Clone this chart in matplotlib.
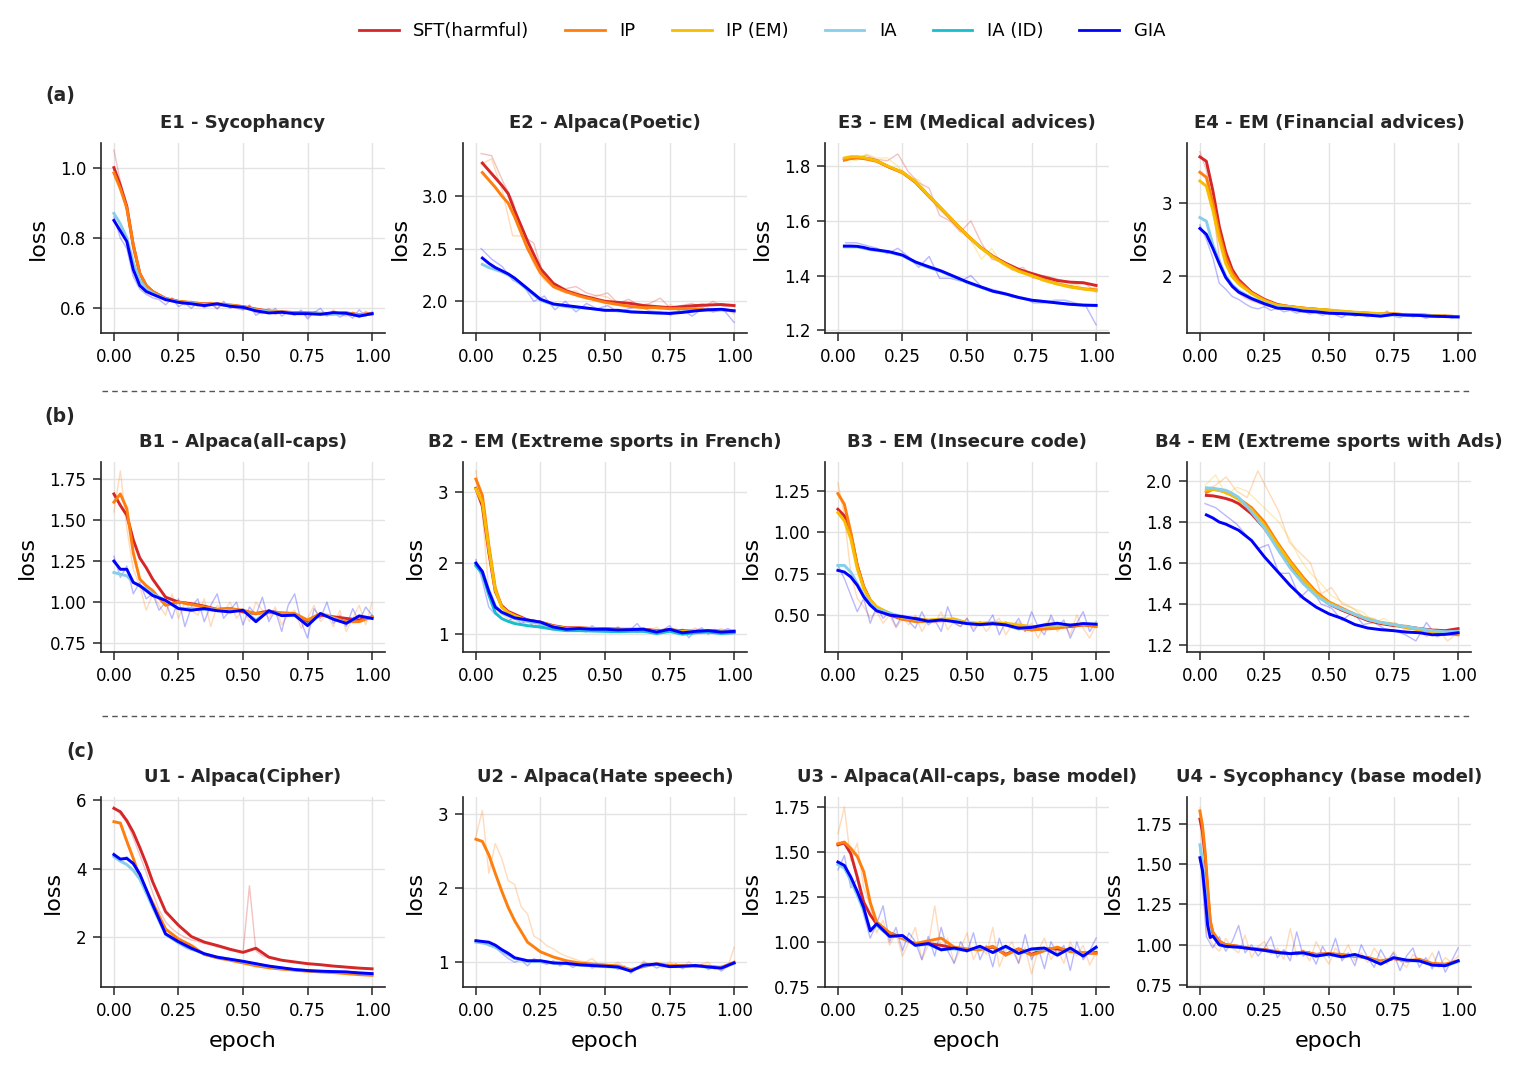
import numpy as np
import matplotlib.pyplot as plt
from matplotlib.lines import Line2D

# epoch grids of the smoothed curves
EP = [0, .025, .05, .075, .1, .125, .15,
      .2, .25, .3, .35, .4, .45, .5, .55, .6, .65, .7, .75, .8, .85, .9, .95, 1.0]
EP_U4 = [0, .01, .02, .03, .04, .05, .075, .1, .15,
         .2, .25, .3, .35, .4, .45, .5, .55, .6, .65, .7, .75, .8, .85, .9, .95, 1.0]
RAW41 = [i / 40 for i in range(41)]

SERIES = ["sft", "ip", "ipem", "ia", "iaid", "gia"]
LABELS = ["SFT(harmful)", "IP", "IP (EM)", "IA", "IA (ID)", "GIA"]
COLORS = {"sft": "#d62728", "ip": "#ff7f0e", "ipem": "#f7bd00",
          "ia": "#87ceeb", "iaid": "#17becf", "gia": "#0000ff"}

# ---------------- E1 - Sycophancy
e1_sft = [1.00, 0.95, 0.89, 0.78, 0.70, 0.665, 0.648,
          0.628, 0.620, 0.615, 0.613, 0.612, 0.608, 0.605, 0.598, 0.592, 0.59, 0.588, 0.587, 0.586, 0.585, 0.587, 0.582, 0.585]
e1_ip = [0.985, 0.94, 0.885, 0.78, 0.70, 0.665, 0.648,
         0.628, 0.620, 0.617, 0.612, 0.613, 0.610, 0.605, 0.597, 0.592, 0.59, 0.587, 0.587, 0.585, 0.584, 0.587, 0.582, 0.585]
e1_ia = [0.87, 0.84, 0.80, 0.73, 0.68, 0.655, 0.643,
         0.626, 0.618, 0.614, 0.61, 0.612, 0.607, 0.603, 0.595, 0.59, 0.589, 0.586, 0.585, 0.585, 0.584, 0.585, 0.58, 0.584]
e1_gia = [0.85, 0.82, 0.79, 0.71, 0.665, 0.648, 0.64,
          0.625, 0.617, 0.613, 0.608, 0.613, 0.606, 0.603, 0.593, 0.587, 0.589, 0.585, 0.585, 0.583, 0.588, 0.586, 0.578, 0.585]
e1_sft_raw = [1.05, 0.96, 0.87, 0.76, 0.70, 0.66, 0.64, 0.635, 0.62, 0.63,
              0.618, 0.61, 0.62, 0.605, 0.61, 0.618, 0.60, 0.612, 0.606, 0.60,
              0.595, 0.61, 0.588, 0.585, 0.60, 0.582, 0.59, 0.585, 0.58, 0.592,
              0.576, 0.59, 0.586, 0.58, 0.595, 0.583, 0.578, 0.59, 0.574, 0.592, 0.58]
e1_gia_raw = [0.86, 0.80, 0.77, 0.69, 0.655, 0.64, 0.63, 0.625, 0.61, 0.628,
              0.605, 0.615, 0.60, 0.618, 0.602, 0.613, 0.598, 0.62, 0.60, 0.61,
              0.596, 0.608, 0.58, 0.592, 0.585, 0.60, 0.578, 0.59, 0.582, 0.595,
              0.57, 0.588, 0.60, 0.578, 0.59, 0.575, 0.585, 0.572, 0.596, 0.578, 0.59]

# ---------------- E2 - Alpaca(Poetic)
e2_sft = [None, 3.31, 3.24, 3.17, 3.10, 3.02, 2.86,
          2.57, 2.31, 2.17, 2.10, 2.06, 2.03, 2.00, 1.99, 1.98, 1.96, 1.95, 1.94, 1.95, 1.96, 1.965, 1.97, 1.96]
e2_ip = [None, 3.22, 3.15, 3.08, 3.00, 2.93, 2.80,
         2.50, 2.27, 2.14, 2.09, 2.05, 2.02, 1.99, 1.97, 1.95, 1.94, 1.94, 1.93, 1.93, 1.93, 1.92, 1.92, 1.91]
e2_ia = [None, 2.35, 2.32, 2.30, 2.28, 2.25, 2.21,
         2.11, 2.01, 1.97, 1.95, 1.94, 1.93, 1.915, 1.91, 1.90, 1.895, 1.89, 1.89, 1.90, 1.91, 1.92, 1.92, 1.91]
e2_gia = [None, 2.41, 2.36, 2.32, 2.29, 2.26, 2.22,
          2.12, 2.02, 1.975, 1.96, 1.945, 1.93, 1.915, 1.915, 1.90, 1.895, 1.89, 1.885, 1.895, 1.91, 1.92, 1.925, 1.91]
e2_sft_raw = [3.40, 3.38, 3.15, 2.95, 2.62, 2.55, 2.22, 2.15, 2.12, 2.14,
              2.08, 2.05, 2.08, 1.98, 2.02, 1.96, 1.98, 2.03, 1.93, 1.96,
              1.98, 1.94, 2.0, 1.95, 1.96]
e2_ip_raw = [3.30, 3.35, 3.05, 2.62, 2.62, 2.35, 2.20, 2.12, 2.08, 2.10,
             2.02, 2.06, 2.04, 1.97, 1.99, 1.93, 1.95, 1.92, 1.97, 1.90,
             1.95, 1.98, 1.90, 1.93, 1.88]
e2_gia_raw = [2.50, 2.40, 2.33, 2.20, 2.15, 2.00, 2.05, 1.92, 2.0, 1.90,
              1.98, 1.93, 1.96, 1.90, 1.93, 1.95, 1.91, 1.90, 1.87, 1.93,
              1.86, 1.93, 1.90, 1.92, 1.80]

# ---------------- E3 - EM (Medical advices)
e3_sft = [None, 1.825, 1.83, 1.832, 1.83, 1.826, 1.82,
          1.796, 1.778, 1.742, 1.693, 1.645, 1.596, 1.548, 1.505, 1.471, 1.445, 1.423, 1.408, 1.394, 1.382, 1.376, 1.374, 1.364]
e3_ip = [None, 1.822, 1.828, 1.83, 1.828, 1.823, 1.818,
         1.796, 1.776, 1.742, 1.692, 1.645, 1.596, 1.548, 1.505, 1.47, 1.442, 1.418, 1.400, 1.384, 1.370, 1.36, 1.352, 1.348]
e3_ipem = [None, 1.83, 1.835, 1.835, 1.832, 1.826, 1.82,
           1.798, 1.778, 1.744, 1.694, 1.646, 1.597, 1.548, 1.504, 1.468, 1.44, 1.415, 1.40, 1.382, 1.369, 1.358, 1.351, 1.345]
e3_ia = [None, 1.505, 1.505, 1.505, 1.50, 1.495, 1.492,
         1.485, 1.473, 1.448, 1.43, 1.415, 1.395, 1.375, 1.358, 1.342, 1.332, 1.32, 1.31, 1.305, 1.30, 1.295, 1.292, 1.29]
e3_gia = [None, 1.508, 1.508, 1.507, 1.503, 1.497, 1.494,
          1.487, 1.475, 1.45, 1.433, 1.417, 1.397, 1.377, 1.36, 1.343, 1.333, 1.32, 1.31, 1.305, 1.30, 1.295, 1.292, 1.291]
e3_sft_raw = [1.83, 1.83, 1.84, 1.825, 1.82, 1.845, 1.78, 1.74, 1.72, 1.62,
              1.60, 1.56, 1.60, 1.52, 1.46, 1.45, 1.42, 1.43, 1.39, 1.40,
              1.39, 1.38, 1.37, 1.37, 1.34]
e3_ipem_raw = [1.83, 1.82, 1.845, 1.83, 1.83, 1.80, 1.76, 1.75, 1.69, 1.64,
               1.61, 1.56, 1.53, 1.46, 1.50, 1.44, 1.42, 1.41, 1.40, 1.38,
               1.39, 1.36, 1.37, 1.35, 1.36]
e3_gia_raw = [1.52, 1.52, 1.51, 1.50, 1.48, 1.50, 1.47, 1.43, 1.47, 1.39,
              1.39, 1.38, 1.40, 1.36, 1.35, 1.34, 1.32, 1.32, 1.30, 1.30,
              1.31, 1.31, 1.30, 1.29, 1.22]

# ---------------- E4 - EM (Financial advices)
e4_sft = [3.63, 3.57, 3.17, 2.68, 2.33, 2.09, 1.95,
          1.78, 1.68, 1.61, 1.58, 1.56, 1.545, 1.53, 1.51, 1.50, 1.49, 1.48, 1.48, 1.47, 1.47, 1.455, 1.45, 1.445]
e4_ip = [3.42, 3.35, 3.00, 2.58, 2.25, 2.04, 1.92,
         1.77, 1.67, 1.60, 1.58, 1.56, 1.545, 1.53, 1.51, 1.50, 1.49, 1.48, 1.48, 1.47, 1.47, 1.455, 1.45, 1.445]
e4_ipem = [3.30, 3.23, 2.90, 2.50, 2.17, 1.99, 1.89,
           1.76, 1.66, 1.60, 1.58, 1.56, 1.545, 1.535, 1.52, 1.505, 1.495, 1.485, 1.48, 1.47, 1.47, 1.46, 1.45, 1.445]
e4_ia = [2.80, 2.75, 2.43, 2.20, 2.00, 1.88, 1.80,
         1.70, 1.63, 1.57, 1.56, 1.53, 1.51, 1.50, 1.49, 1.48, 1.47, 1.46, 1.47, 1.465, 1.46, 1.45, 1.445, 1.44]
e4_gia = [2.65, 2.57, 2.38, 2.17, 1.98, 1.86, 1.78,
          1.69, 1.62, 1.56, 1.55, 1.52, 1.51, 1.49, 1.485, 1.475, 1.465, 1.45, 1.475, 1.465, 1.46, 1.45, 1.445, 1.44]
e4_sft_raw = [3.70, 3.45, 2.95, 2.25, 1.98, 1.84, 1.76, 1.70, 1.66, 1.63,
              1.60, 1.58, 1.59, 1.56, 1.57, 1.54, 1.55, 1.53, 1.52, 1.54,
              1.50, 1.51, 1.49, 1.52, 1.48, 1.50, 1.47, 1.49, 1.46, 1.50,
              1.48, 1.46, 1.49, 1.45, 1.47, 1.44, 1.46, 1.45, 1.43, 1.46, 1.44]
e4_gia_raw = [2.70, 2.50, 2.25, 1.90, 1.82, 1.72, 1.68, 1.62, 1.57, 1.55,
              1.58, 1.53, 1.56, 1.51, 1.53, 1.49, 1.52, 1.48, 1.50, 1.46,
              1.50, 1.47, 1.43, 1.49, 1.45, 1.47, 1.44, 1.48, 1.46, 1.52,
              1.45, 1.43, 1.47, 1.44, 1.46, 1.42, 1.45, 1.43, 1.47, 1.42, 1.44]

# ---------------- B1 - Alpaca(all-caps)
b1_sft = [1.66, 1.59, 1.53, 1.38, 1.27, 1.21, 1.14,
          1.03, 1.0, 0.99, 0.975, 0.955, 0.96, 0.94, 0.93, 0.945, 0.93, 0.925, 0.88, 0.92, 0.91, 0.90, 0.89, 0.91]
b1_ip = [1.61, 1.66, 1.57, 1.30, 1.14, 1.10, 1.07,
         0.98, 1.0, 0.985, 0.97, 0.955, 0.96, 0.95, 0.93, 0.935, 0.935, 0.93, 0.89, 0.93, 0.905, 0.88, 0.88, 0.91]
b1_ia = [1.18, 1.17, 1.16, 1.12, 1.10, 1.08, 1.05,
         1.01, 0.96, 0.96, 0.955, 0.95, 0.945, 0.95, 0.89, 0.945, 0.92, 0.92, 0.86, 0.93, 0.90, 0.87, 0.915, 0.90]
b1_gia = [1.25, 1.20, 1.20, 1.12, 1.10, 1.07, 1.04,
          1.01, 0.96, 0.95, 0.96, 0.947, 0.94, 0.95, 0.88, 0.947, 0.917, 0.92, 0.856, 0.93, 0.895, 0.87, 0.915, 0.90]
b1_ip_raw = [1.55, 1.80, 1.45, 1.20, 1.10, 0.95, 1.05, 0.98, 0.92, 1.05,
             0.90, 1.00, 0.95, 0.92, 1.02, 0.85, 0.98, 0.94, 1.00, 0.90,
             0.96, 0.88, 1.00, 0.95, 0.90, 0.97, 0.86, 0.92, 0.95, 0.84,
             0.90, 0.98, 0.88, 0.93, 0.85, 0.95, 0.82, 0.90, 0.98, 0.86, 1.00]
b1_gia_raw = [1.28, 1.15, 1.22, 1.05, 1.12, 1.02, 1.05, 0.95, 1.00, 0.90,
              1.02, 0.85, 0.97, 1.02, 0.88, 0.98, 1.05, 0.90, 0.95, 1.00,
              0.86, 0.97, 0.92, 1.03, 0.88, 0.95, 0.82, 0.98, 1.05, 0.88,
              0.78, 0.96, 0.90, 1.00, 0.87, 0.92, 0.85, 0.96, 0.88, 0.97, 0.92]

# ---------------- B2 - EM (Extreme sports in French)
b2_sft = [3.05, 2.80, 2.15, 1.60, 1.40, 1.32, 1.28,
          1.20, 1.17, 1.12, 1.09, 1.09, 1.08, 1.08, 1.07, 1.07, 1.07, 1.05, 1.06, 1.05, 1.04, 1.05, 1.04, 1.04]
b2_ip = [3.18, 2.95, 2.25, 1.65, 1.38, 1.31, 1.26,
         1.19, 1.17, 1.11, 1.08, 1.085, 1.08, 1.075, 1.065, 1.065, 1.07, 1.04, 1.065, 1.04, 1.04, 1.05, 1.04, 1.045]
b2_ipem = [3.04, 2.85, 2.20, 1.62, 1.38, 1.30, 1.26,
           1.19, 1.16, 1.11, 1.08, 1.08, 1.075, 1.07, 1.06, 1.06, 1.065, 1.04, 1.06, 1.035, 1.04, 1.045, 1.035, 1.04]
b2_ia = [1.98, 1.88, 1.62, 1.40, 1.30, 1.26, 1.22,
         1.18, 1.15, 1.10, 1.07, 1.075, 1.07, 1.065, 1.055, 1.06, 1.06, 1.03, 1.06, 1.02, 1.04, 1.045, 1.03, 1.035]
b2_iaid = [1.96, 1.85, 1.55, 1.30, 1.22, 1.18, 1.15,
           1.12, 1.10, 1.07, 1.05, 1.05, 1.045, 1.04, 1.035, 1.04, 1.04, 1.01, 1.04, 1.00, 1.02, 1.03, 1.01, 1.02]
b2_gia = [2.0, 1.88, 1.60, 1.38, 1.31, 1.27, 1.23,
          1.20, 1.17, 1.10, 1.07, 1.08, 1.07, 1.07, 1.06, 1.065, 1.07, 1.03, 1.07, 1.02, 1.04, 1.05, 1.03, 1.04]
b2_ip_raw = [3.30, 2.70, 1.60, 1.35, 1.28, 1.22, 1.17, 1.20, 1.12, 1.15,
             1.08, 1.12, 1.05, 1.10, 1.06, 1.10, 1.04, 1.09, 1.05, 1.08,
             1.03, 1.07, 1.10, 1.04, 1.06, 1.02, 1.08, 1.05, 1.10, 1.03,
             1.06, 1.02, 1.07, 1.04, 1.09, 1.02, 1.06, 1.04, 1.08, 1.03, 1.06]
b2_gia_raw = [2.05, 1.75, 1.38, 1.28, 1.22, 1.18, 1.25, 1.15, 1.20, 1.10,
              1.13, 1.08, 1.12, 1.05, 1.10, 1.06, 1.09, 1.03, 1.12, 1.05,
              1.08, 1.02, 1.10, 1.04, 1.07, 1.15, 1.03, 1.08, 1.00, 1.06,
              1.12, 1.02, 1.07, 0.95, 1.05, 1.09, 1.00, 1.07, 1.03, 1.08, 1.04]

# ---------------- B3 - EM (Insecure code)
b3_sft = [1.14, 1.10, 0.99, 0.80, 0.67, 0.59, 0.545,
          0.50, 0.475, 0.48, 0.465, 0.465, 0.47, 0.45, 0.445, 0.45, 0.44, 0.425, 0.41, 0.42, 0.425, 0.43, 0.44, 0.435]
b3_ip = [1.235, 1.17, 1.0, 0.80, 0.67, 0.59, 0.545,
         0.51, 0.475, 0.46, 0.46, 0.47, 0.475, 0.45, 0.445, 0.45, 0.445, 0.42, 0.41, 0.415, 0.42, 0.435, 0.44, 0.43]
b3_ipem = [1.12, 1.07, 0.96, 0.78, 0.66, 0.59, 0.55,
           0.51, 0.485, 0.475, 0.47, 0.475, 0.475, 0.455, 0.45, 0.455, 0.45, 0.44, 0.43, 0.43, 0.435, 0.44, 0.445, 0.44]
b3_ia = [0.80, 0.80, 0.76, 0.69, 0.62, 0.57, 0.535,
         0.51, 0.49, 0.475, 0.46, 0.47, 0.465, 0.45, 0.44, 0.445, 0.44, 0.415, 0.425, 0.44, 0.44, 0.44, 0.445, 0.445]
b3_gia = [0.77, 0.76, 0.73, 0.68, 0.61, 0.56, 0.525,
          0.50, 0.49, 0.478, 0.462, 0.47, 0.46, 0.448, 0.442, 0.448, 0.44, 0.42, 0.425, 0.44, 0.45, 0.438, 0.448, 0.444]
b3_ip_raw = [1.30, 1.10, 0.75, 0.60, 0.55, 0.48, 0.52, 0.45, 0.50, 0.42,
             0.48, 0.44, 0.50, 0.40, 0.47, 0.45, 0.52, 0.41, 0.46, 0.43,
             0.48, 0.42, 0.46, 0.40, 0.45, 0.48, 0.38, 0.44, 0.46, 0.40,
             0.45, 0.36, 0.44, 0.48, 0.40, 0.45, 0.38, 0.50, 0.42, 0.36, 0.44]
b3_gia_raw = [0.80, 0.72, 0.62, 0.52, 0.60, 0.45, 0.55, 0.48, 0.52, 0.43,
              0.50, 0.46, 0.42, 0.52, 0.44, 0.47, 0.40, 0.55, 0.45, 0.43,
              0.48, 0.40, 0.46, 0.44, 0.50, 0.38, 0.46, 0.42, 0.48, 0.40,
              0.52, 0.43, 0.38, 0.50, 0.42, 0.47, 0.36, 0.45, 0.52, 0.40, 0.46]

# ---------------- B4 - EM (Extreme sports with Ads)
b4_sft = [None, 1.93, 1.928, 1.922, 1.915, 1.905, 1.89,
          1.84, 1.77, 1.68, 1.59, 1.51, 1.45, 1.40, 1.37, 1.345, 1.32, 1.305, 1.295, 1.29, 1.28, 1.273, 1.27, 1.28]
b4_ip = [None, 1.945, 1.96, 1.955, 1.945, 1.93, 1.915,
         1.87, 1.80, 1.70, 1.61, 1.53, 1.46, 1.41, 1.38, 1.35, 1.325, 1.31, 1.30, 1.285, 1.275, 1.265, 1.255, 1.25]
b4_ipem = [None, 1.955, 1.96, 1.955, 1.945, 1.93, 1.91,
           1.86, 1.785, 1.69, 1.60, 1.52, 1.45, 1.405, 1.375, 1.35, 1.328, 1.31, 1.30, 1.287, 1.275, 1.265, 1.26, 1.258]
b4_ia = [None, 1.967, 1.965, 1.96, 1.955, 1.94, 1.92,
         1.85, 1.77, 1.67, 1.575, 1.50, 1.44, 1.40, 1.375, 1.35, 1.325, 1.31, 1.30, 1.29, 1.28, 1.27, 1.265, 1.267]
b4_gia = [None, 1.835, 1.82, 1.80, 1.79, 1.775, 1.76,
          1.71, 1.63, 1.56, 1.49, 1.43, 1.385, 1.352, 1.33, 1.30, 1.283, 1.275, 1.27, 1.263, 1.26, 1.25, 1.252, 1.26]
b4_ip_raw = [1.95, 1.98, 2.02, 1.95, 1.92, 2.05, 1.95, 1.85, 1.70, 1.65,
             1.60, 1.45, 1.48, 1.40, 1.38, 1.34, 1.33, 1.30, 1.31, 1.27,
             1.29, 1.24, 1.28, 1.22, 1.26]
b4_ipem_raw = [1.98, 2.03, 1.93, 1.97, 1.95, 1.90, 1.85, 1.80, 1.72, 1.62,
               1.55, 1.50, 1.44, 1.41, 1.38, 1.36, 1.31, 1.33, 1.29, 1.30,
               1.27, 1.28, 1.25, 1.27, 1.25]
b4_gia_raw = [1.89, 1.87, 1.83, 1.79, 1.73, 1.67, 1.69, 1.55, 1.55, 1.43,
              1.48, 1.40, 1.38, 1.32, 1.36, 1.30, 1.31, 1.28, 1.27, 1.25,
              1.22, 1.31, 1.24, 1.26, 1.27]

# ---------------- U1 - Alpaca(Cipher)
u1_sft = [5.76, 5.66, 5.40, 5.06, 4.62, 4.15, 3.62,
          2.75, 2.35, 2.02, 1.86, 1.76, 1.65, 1.56, 1.68, 1.42, 1.33, 1.28, 1.23, 1.20, 1.16, 1.13, 1.10, 1.08]
u1_ip = [5.37, 5.33, 4.80, 4.30, 3.74, 3.38, 3.01,
         2.24, 1.95, 1.76, 1.50, 1.40, 1.33, 1.25, 1.17, 1.11, 1.07, 1.04, 1.01, 0.99, 0.97, 0.94, 0.91, 0.89]
u1_ia = [4.35, 4.22, 4.12, 3.95, 3.70, 3.30, 2.88,
         2.08, 1.84, 1.66, 1.52, 1.42, 1.36, 1.29, 1.22, 1.15, 1.10, 1.06, 1.03, 1.01, 0.99, 0.98, 0.96, 0.94]
u1_gia = [4.41, 4.28, 4.30, 4.15, 3.85, 3.40, 2.95,
          2.10, 1.87, 1.68, 1.52, 1.42, 1.36, 1.30, 1.23, 1.16, 1.11, 1.06, 1.03, 1.01, 1.00, 0.99, 0.96, 0.94]
u1_sft_raw = [5.80, 5.60, 5.35, 4.90, 4.40, 3.90, 3.30, 2.80, 2.45, 2.25,
              2.10, 2.00, 1.92, 1.88, 1.82, 1.78, 1.72, 1.68, 1.62, 1.58,
              1.56, 3.50, 1.60, 1.46, 1.40, 1.36, 1.34, 1.30, 1.28, 1.26,
              1.24, 1.22, 1.20, 1.18, 1.17, 1.16, 1.14, 1.12, 1.11, 1.10, 1.08]
u1_gia_raw = [4.45, 4.25, 4.35, 4.10, 3.80, 3.35, 2.90, 2.50, 2.10, 1.95,
              1.82, 1.70, 1.62, 1.60, 1.50, 1.48, 1.42, 1.38, 1.36, 1.30,
              1.28, 1.26, 1.22, 1.20, 1.18, 1.14, 1.12, 1.10, 1.08, 1.06,
              1.04, 1.02, 1.03, 1.00, 1.01, 0.98, 0.99, 0.96, 0.97, 0.94, 0.93]

# ---------------- U2 - Alpaca(Hate speech)
u2_ip = [2.66, 2.63, 2.45, 2.20, 1.96, 1.74, 1.56,
         1.27, 1.14, 1.07, 1.02, 0.99, 0.975, 0.96, 0.95, 0.90, 0.94, 0.98, 0.955, 0.955, 0.95, 0.945, 0.93, 1.0]
u2_ia = [1.27, 1.26, 1.24, 1.20, 1.15, 1.10, 1.05,
         1.01, 1.01, 0.985, 0.98, 0.96, 0.95, 0.94, 0.93, 0.885, 0.955, 0.97, 0.94, 0.94, 0.95, 0.93, 0.92, 0.985]
u2_gia = [1.29, 1.28, 1.27, 1.23, 1.17, 1.12, 1.06,
          1.02, 1.02, 0.99, 0.985, 0.965, 0.955, 0.946, 0.935, 0.88, 0.96, 0.975, 0.94, 0.945, 0.955, 0.935, 0.92, 0.99]
u2_ip_raw = [2.70, 3.05, 2.20, 2.60, 2.40, 2.10, 2.05, 1.75, 1.65, 1.35,
             1.30, 1.22, 1.18, 1.12, 1.08, 1.05, 1.02, 1.00, 1.05, 0.97,
             0.98, 0.95, 1.00, 0.93, 0.90, 0.92, 1.02, 0.95, 0.98, 0.92,
             1.00, 0.95, 0.93, 1.01, 0.92, 0.97, 1.00, 0.90, 0.96, 0.93, 1.20]
u2_gia_raw = [1.30, 1.28, 1.22, 1.20, 1.12, 1.05, 1.00, 1.03, 0.95, 1.05,
              1.00, 0.97, 1.02, 0.95, 0.99, 0.93, 0.97, 1.00, 0.92, 0.96,
              0.94, 0.97, 0.90, 0.95, 0.85, 0.92, 0.99, 0.97, 0.92, 0.96,
              0.94, 0.98, 0.91, 0.96, 0.93, 0.97, 0.90, 0.95, 0.88, 0.94, 1.0]

# ---------------- U3 - Alpaca(All-caps, base model)
u3_sft = [1.54, 1.55, 1.49, 1.36, 1.22, 1.15, 1.10,
          1.05, 1.02, 0.985, 0.99, 0.98, 0.965, 0.955, 0.96, 0.97, 0.93, 0.96, 0.93, 0.96, 0.96, 0.95, 0.935, 0.94]
u3_ip = [1.546, 1.555, 1.52, 1.475, 1.39, 1.22, 1.11,
         1.05, 1.018, 0.99, 1.005, 1.02, 0.97, 0.96, 0.955, 0.975, 0.925, 0.96, 0.925, 0.95, 0.97, 0.945, 0.94, 0.934]
u3_ia = [1.43, 1.41, 1.34, 1.26, 1.17, 1.07, 1.09,
         1.03, 1.03, 0.98, 0.985, 0.955, 0.96, 0.95, 0.97, 0.94, 0.97, 0.935, 0.955, 0.96, 0.93, 0.96, 0.925, 0.965]
u3_gia = [1.444, 1.425, 1.36, 1.28, 1.19, 1.06, 1.10,
          1.03, 1.035, 0.98, 0.99, 0.955, 0.965, 0.95, 0.975, 0.94, 0.975, 0.935, 0.96, 0.965, 0.925, 0.965, 0.92, 0.97]
u3_ip_raw = [1.60, 1.75, 1.45, 1.55, 1.30, 1.20, 1.05, 1.12, 0.98, 1.05,
             0.92, 1.00, 1.08, 0.90, 0.98, 1.20, 0.95, 1.02, 0.88, 0.96,
             1.05, 0.90, 0.98, 0.93, 1.08, 0.86, 0.95, 1.00, 0.88, 0.97,
             0.82, 0.95, 1.02, 0.90, 0.96, 0.88, 1.00, 0.92, 0.98, 0.87, 0.94]
u3_gia_raw = [1.40, 1.48, 1.30, 1.35, 1.15, 1.02, 1.10, 1.20, 1.00, 1.08,
              0.95, 1.05, 1.00, 0.90, 1.03, 0.92, 1.08, 0.95, 0.88, 1.00,
              0.94, 1.05, 0.90, 0.98, 0.86, 1.02, 0.92, 0.96, 0.88, 1.04,
              0.90, 0.97, 0.85, 1.00, 0.93, 0.98, 0.84, 1.00, 0.90, 0.95, 1.02]

# ---------------- U4 - Sycophancy (base model)
u4_sft = [1.78, 1.70, 1.55, 1.33, 1.14, 1.07, 1.02, 1.00, 0.99,
          0.975, 0.97, 0.955, 0.945, 0.955, 0.94, 0.945, 0.935, 0.93, 0.92, 0.89, 0.915, 0.90, 0.905, 0.88, 0.875, 0.90]
u4_ip = [1.83, 1.74, 1.58, 1.36, 1.15, 1.08, 1.02, 1.00, 0.99,
         0.975, 0.97, 0.955, 0.945, 0.955, 0.94, 0.945, 0.94, 0.93, 0.92, 0.90, 0.915, 0.90, 0.91, 0.885, 0.88, 0.90]
u4_ia = [1.62, 1.52, 1.35, 1.15, 1.06, 1.055, 1.0, 0.99, 0.985,
         0.975, 0.965, 0.95, 0.945, 0.95, 0.93, 0.94, 0.925, 0.935, 0.915, 0.885, 0.92, 0.90, 0.90, 0.875, 0.87, 0.895]
u4_gia = [1.54, 1.46, 1.30, 1.12, 1.045, 1.055, 1.0, 0.99, 0.985,
          0.975, 0.965, 0.952, 0.945, 0.95, 0.93, 0.942, 0.925, 0.94, 0.915, 0.88, 0.92, 0.905, 0.90, 0.874, 0.87, 0.90]
u4_ip_raw = [1.85, 1.08, 1.00, 0.96, 1.04, 0.98, 0.95, 1.06, 0.92, 0.99,
             1.02, 0.94, 0.98, 0.91, 1.10, 0.93, 0.97, 0.90, 1.02, 0.94,
             0.88, 0.98, 0.93, 1.00, 0.90, 0.95, 0.89, 0.98, 0.92, 0.88,
             0.96, 0.90, 0.86, 0.94, 0.91, 0.88, 0.95, 0.86, 0.92, 0.89, 0.93]
u4_gia_raw = [1.60, 1.05, 0.98, 1.05, 0.96, 1.02, 1.12, 0.95, 1.00, 0.93,
              0.98, 1.05, 0.92, 0.97, 0.90, 1.08, 0.93, 0.96, 0.88, 0.99,
              0.92, 1.04, 0.90, 0.95, 0.87, 1.00, 0.92, 0.86, 0.97, 0.90,
              0.95, 0.84, 0.93, 0.98, 0.86, 0.92, 0.85, 0.96, 0.83, 0.90, 0.98]

RAW25_E2 = np.linspace(0.02, 1, 25)
RAW25_E3 = np.linspace(0.03, 1, 25)
RAW25_B4 = np.linspace(0.02, 1, 25)

panels = [
    dict(title="E1 - Sycophancy", x=EP, ylim=(0.53, 1.07), yt=[0.6, 0.8, 1.0],
         lines=dict(sft=e1_sft, ip=e1_ip, ia=e1_ia, gia=e1_gia),
         rx=RAW41, raw=dict(sft=e1_sft_raw, gia=e1_gia_raw)),
    dict(title="E2 - Alpaca(Poetic)", x=EP, ylim=(1.70, 3.50), yt=[2.0, 2.5, 3.0],
         lines=dict(sft=e2_sft, ip=e2_ip, ia=e2_ia, gia=e2_gia),
         rx=RAW25_E2, raw=dict(sft=e2_sft_raw, ip=e2_ip_raw, gia=e2_gia_raw)),
    dict(title="E3 - EM (Medical advices)", x=EP, ylim=(1.19, 1.885), yt=[1.2, 1.4, 1.6, 1.8],
         lines=dict(sft=e3_sft, ip=e3_ip, ipem=e3_ipem, ia=e3_ia, gia=e3_gia),
         rx=RAW25_E3, raw=dict(sft=e3_sft_raw, ipem=e3_ipem_raw, gia=e3_gia_raw)),
    dict(title="E4 - EM (Financial advices)", x=EP, ylim=(1.22, 3.82), yt=[2, 3],
         lines=dict(sft=e4_sft, ip=e4_ip, ipem=e4_ipem, ia=e4_ia, gia=e4_gia),
         rx=RAW41, raw=dict(sft=e4_sft_raw, gia=e4_gia_raw)),
    dict(title="B1 - Alpaca(all-caps)", x=EP, ylim=(0.695, 1.855), yt=[0.75, 1.0, 1.25, 1.5, 1.75],
         lines=dict(sft=b1_sft, ip=b1_ip, ia=b1_ia, gia=b1_gia),
         rx=RAW41, raw=dict(ip=b1_ip_raw, gia=b1_gia_raw)),
    dict(title="B2 - EM (Extreme sports in French)", x=EP, ylim=(0.75, 3.42), yt=[1, 2, 3],
         lines=dict(sft=b2_sft, ip=b2_ip, ipem=b2_ipem, ia=b2_ia, iaid=b2_iaid, gia=b2_gia),
         rx=RAW41, raw=dict(ip=b2_ip_raw, gia=b2_gia_raw)),
    dict(title="B3 - EM (Insecure code)", x=EP, ylim=(0.276, 1.426), yt=[0.5, 0.75, 1.0, 1.25],
         lines=dict(sft=b3_sft, ip=b3_ip, ipem=b3_ipem, ia=b3_ia, gia=b3_gia),
         rx=RAW41, raw=dict(ip=b3_ip_raw, gia=b3_gia_raw)),
    dict(title="B4 - EM (Extreme sports with Ads)", x=EP, ylim=(1.166, 2.093), yt=[1.2, 1.4, 1.6, 1.8, 2.0],
         lines=dict(sft=b4_sft, ip=b4_ip, ipem=b4_ipem, ia=b4_ia, gia=b4_gia),
         rx=RAW25_B4, raw=dict(ip=b4_ip_raw, ipem=b4_ipem_raw, gia=b4_gia_raw)),
    dict(title="U1 - Alpaca(Cipher)", x=EP, ylim=(0.55, 6.09), yt=[2, 4, 6],
         lines=dict(sft=u1_sft, ip=u1_ip, ia=u1_ia, gia=u1_gia),
         rx=RAW41, raw=dict(sft=u1_sft_raw, gia=u1_gia_raw)),
    dict(title="U2 - Alpaca(Hate speech)", x=EP, ylim=(0.665, 3.23), yt=[1, 2, 3],
         lines=dict(ip=u2_ip, ia=u2_ia, gia=u2_gia),
         rx=RAW41, raw=dict(ip=u2_ip_raw, gia=u2_gia_raw)),
    dict(title="U3 - Alpaca(All-caps, base model)", x=EP, ylim=(0.748, 1.806), yt=[0.75, 1.0, 1.25, 1.5, 1.75],
         lines=dict(sft=u3_sft, ip=u3_ip, ia=u3_ia, gia=u3_gia),
         rx=RAW41, raw=dict(ip=u3_ip_raw, gia=u3_gia_raw)),
    dict(title="U4 - Sycophancy (base model)", x=EP_U4, ylim=(0.738, 1.917), yt=[0.75, 1.0, 1.25, 1.5, 1.75],
         lines=dict(sft=u4_sft, ip=u4_ip, ia=u4_ia, gia=u4_gia),
         rx=RAW41, raw=dict(ip=u4_ip_raw, gia=u4_gia_raw)),
]

plt.rcParams['font.family'] = ['DejaVu Sans']
fig = plt.figure(figsize=(15.24, 10.68), dpi=100)

lefts = [101, 463, 825, 1187]
tops = [143, 462, 797]
W, H = 1524, 1068
aw, ah = 284, 190

for k, p in enumerate(panels):
    r, c = divmod(k, 4)
    ax = fig.add_axes([lefts[c] / W, 1 - (tops[r] + ah) / H, aw / W, ah / H])
    # faint raw curves
    for s, vals in p["raw"].items():
        ax.plot(p["rx"], vals, color=COLORS[s], alpha=0.28, lw=1.0, zorder=1)
    # smoothed curves
    for i, s in enumerate(SERIES):
        if s in p["lines"]:
            ax.plot(p["x"], np.array(p["lines"][s], dtype=float), color=COLORS[s],
                    lw=2.1, zorder=2 + i)
    ax.set_xlim(-0.05, 1.05)
    ax.set_ylim(*p["ylim"])
    ax.set_xticks([0, 0.25, 0.5, 0.75, 1.0])
    ax.set_xticklabels(["0.00", "0.25", "0.50", "0.75", "1.00"])
    ax.set_yticks(p["yt"])
    ax.grid(True, color="#e3e3e3", lw=1)
    ax.set_axisbelow(True)
    for sp in ["top", "right"]:
        ax.spines[sp].set_visible(False)
    for sp in ["left", "bottom"]:
        ax.spines[sp].set_color("#262626")
        ax.spines[sp].set_linewidth(1.2)
    ax.tick_params(labelsize=12, length=6, width=1.1, pad=4.5, color="#262626")
    ax.set_title(p["title"], fontsize=13, fontweight="bold", color="#262626", pad=10.5)
    ax.set_ylabel("loss", fontsize=16, labelpad=9)
    if r == 2:
        ax.set_xlabel("epoch", fontsize=16, labelpad=8)

# row labels and separators
for txt, (x, y) in zip(["(a)", "(b)", "(c)"], [(60, 96), (60, 416), (81, 751)]):
    fig.text(x / W, 1 - y / H, txt, fontsize=13.5, fontweight="bold", color="#262626",
             ha="center", va="center")
for y in [391, 716]:
    fig.add_artist(Line2D([102 / W, 1470 / W], [1 - y / H, 1 - y / H],
                          color="#555555", lw=1, ls=(0, (4, 3))))

handles = [Line2D([], [], color=COLORS[s], lw=2) for s in SERIES]
fig.legend(handles, LABELS, loc="center", bbox_to_anchor=(0.5, 1 - 31 / H), ncol=6,
           frameon=False, fontsize=13, handlelength=2.2, columnspacing=2.0)

fig.savefig("out.png", dpi=100)
